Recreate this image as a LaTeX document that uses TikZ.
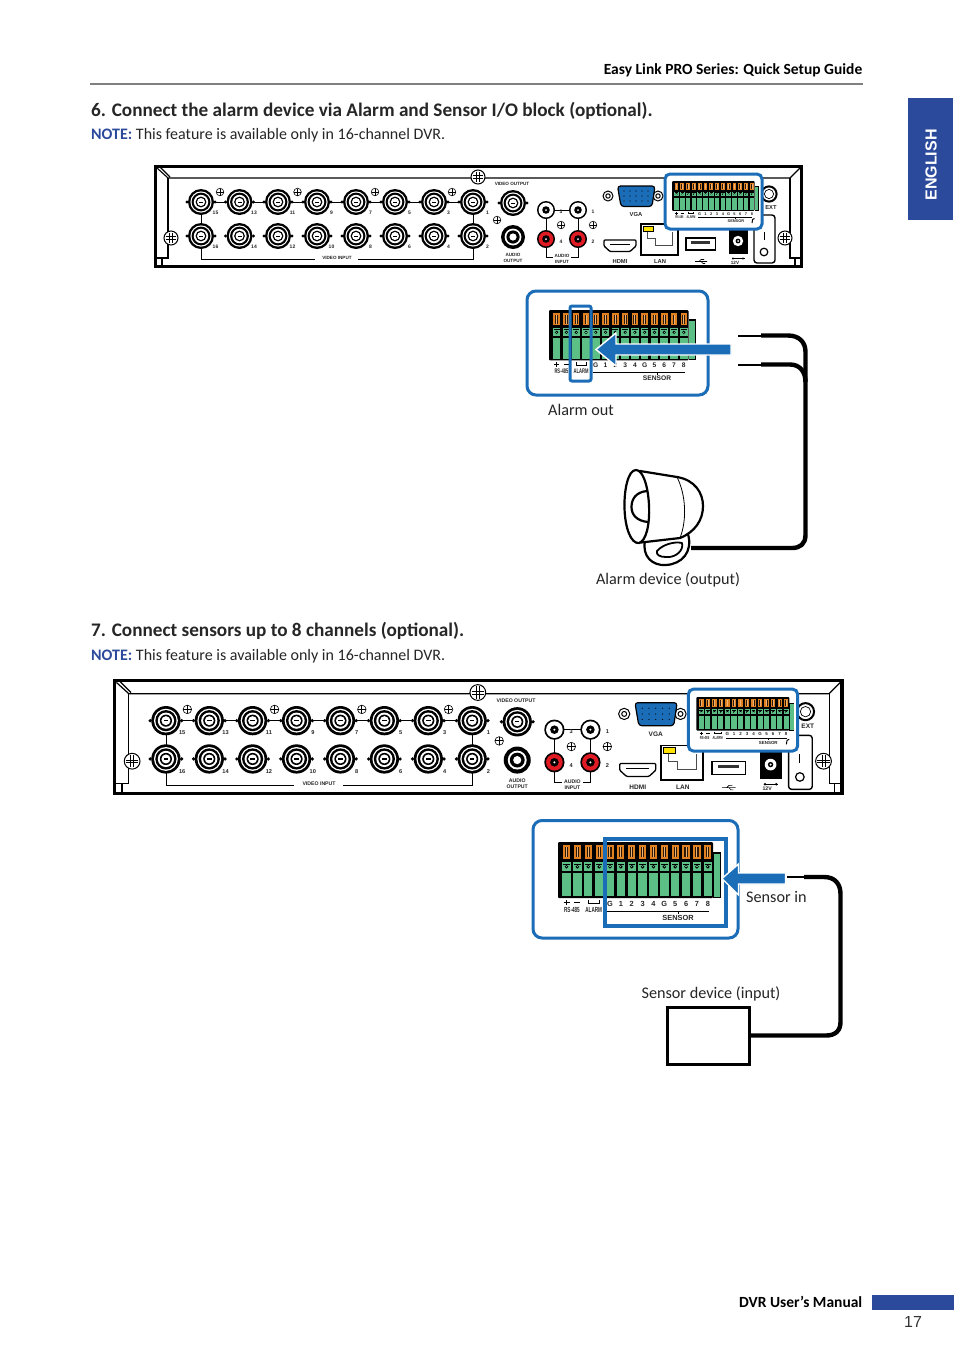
\documentclass[tikz,border=0pt]{standalone}
\usepackage{fontspec}
\setmainfont{Carlito}
\newfontfamily\arialf{Liberation Sans}
\usetikzlibrary{calc}
\definecolor{tabblue}{HTML}{2B4A9C}
\definecolor{boxblue}{HTML}{1B6DB8}
\definecolor{termgreen}{HTML}{5CBF85}
\definecolor{termorange}{HTML}{E0801E}
\definecolor{rcared}{HTML}{E01B24}
\definecolor{rulegray}{HTML}{808080}
\newcount\lblc
\newcommand{\plab}[4][plabel]{\global\advance\lblc by 1\node[#1] (t\the\lblc) at (#2,#3) {#4};}
\tikzset{
 plabel/.style={inner sep=0,font=\arialf\bfseries\fontsize{4.6}{5.6}\selectfont,text=black!85,align=center,transform shape},
 pnum/.style={plabel,font=\arialf\bfseries\fontsize{5}{5}\selectfont},
 pbig/.style={plabel,font=\arialf\bfseries\fontsize{5.8}{6}\selectfont},
 tlab/.style={plabel,font=\arialf\bfseries\fontsize{7.4}{8}\selectfont},
 tnar/.style={plabel,font=\arialf\bfseries\fontsize{7.4}{8}\selectfont,xscale=.62},
 capt/.style={inner sep=0,font=\fontsize{16.2}{18}\selectfont,text=black!85},
 head/.style={inner sep=0,anchor=west,font=\bfseries\fontsize{19.2}{22}\selectfont,text=black!85},
 note/.style={inner sep=0,anchor=west,font=\fontsize{16}{18}\selectfont,text=black!85},
 runhead/.style={inner sep=0,font=\bfseries\fontsize{15.5}{20}\selectfont,text=black},
 hair/.style={line width=.7pt,black},
 wirethin/.style={line width=2pt,black},
 wirethick/.style={line width=4.4pt,black,line join=round},
 bluebox/.style={draw=boxblue,fill=white,line width=3pt,rounded corners=9pt},
 blueline/.style={draw=boxblue,line width=3pt},
 bluearrow/.style={fill=boxblue,draw=white,line width=1.4pt,line join=miter},
 siren/.style={draw=black,line width=2.2pt,fill=white,line join=round},
}
% terminal block, origin top-left of the black body
\newcommand{\termblock}{%
 \fill[black] (155,10) rectangle (163,56);
 \fill[termgreen] (155.5,12) rectangle (162,54.5);
 \fill[black,rounded corners=1pt] (0,0) rectangle (155,56);
 \foreach \i in {0,...,13}{
  \pgfmathsetmacro\cx{8.5+10.87*\i}
  \fill[termorange] (\cx-3.6,3) rectangle (\cx+3.6,17);
  \fill[black!80!termorange] (\cx-1.6,5) rectangle (\cx+1.6,15);
  \fill[white!40!termorange] (\cx-.5,5) rectangle (\cx+.5,15);
  \fill[termgreen] (\cx-4.2,20) rectangle (\cx+4.2,29);
  \fill[black] (\cx-3.2,21.5) rectangle (\cx+3.2,22.5);
  \fill[black] (\cx,24.8) circle (1.9);
  \fill[termgreen] (\cx-.6,24.2) rectangle (\cx+.6,25.4);
  \fill[termgreen] (\cx-4.2,31) rectangle (\cx+4.2,54);
 }
 \pgfmathsetmacro\ca{8.5}\pgfmathsetmacro\cb{19.37}\pgfmathsetmacro\cc{30.24}\pgfmathsetmacro\cd{41.11}
 \draw[line width=1.3pt] (\ca-3,60.5) -- (\ca+3,60.5) (\ca,58) -- (\ca,63);
 \draw[line width=1.3pt] (\cb-3,60.5) -- (\cb+3,60.5);
 \draw[line width=.9pt] (\cc,57.5) -- (\cc,61.5) -- (\cd,61.5) -- (\cd,57.5);
 \plab[tnar]{13.9}{68}{RS-485}
 \plab[tnar]{35.7}{68}{ALARM}
 \foreach \l [count=\j from 4] in {G,1,2,3,4,G,5,6,7,8}{
  \pgfmathsetmacro\cx{8.5+10.87*\j}
  \plab[tlab]{\cx}{61.5}{\l}
 }
 \draw[line width=1pt] (49,69) -- (151,69) (120,69) -- (120,72);
 \plab[tlab]{120}{76}{SENSOR}
}
% rear-panel pieces
\newcommand{\bnc}[2]{%
 \fill[black] (#1-14,#2) circle (1.6) (#1+14,#2) circle (1.6);
 \fill[black] (#1,#2) circle (13);
 \fill[white] (#1,#2) circle (10.6);
 \fill[black] (#1,#2) circle (9.4);
 \fill[white] (#1,#2) circle (7.2);
 \fill[black] (#1,#2) circle (5.4);
 \fill[white] (#1,#2) circle (4);
 \fill[black] (#1-2,#2-.5) rectangle (#1+2,#2+.5);
}
\newcommand{\smscrew}[2]{%
 \draw[black,line width=.6pt,fill=white] (#1,#2) circle (3.8);
 \draw[black,line width=.9pt] (#1-3.5,#2) -- (#1+3.5,#2) (#1,#2-3.5) -- (#1,#2+3.5);
}
\newcommand{\bigscrew}[2]{%
 \draw[black,line width=1pt,fill=white] (#1,#2) circle (7);
 \draw[black,line width=.7pt] (#1-5.4,#2-1.2) -- (#1+5.4,#2-1.2) (#1-5.4,#2+1.2) -- (#1+5.4,#2+1.2) (#1-1.2,#2-5.4) -- (#1-1.2,#2+5.4) (#1+1.2,#2-5.4) -- (#1+1.2,#2+5.4);
}
\newcommand{\rca}[3]{%
 \fill[black] (#1,#2) circle (9);
 \fill[#3] (#1,#2) circle (7.4);
 \fill[black] (#1,#2) circle (3.8);
 \fill[white] (#1,#2) circle (1);
}
\newcommand{\nut}[2]{%
 \draw[black,line width=1pt,fill=white] (#1,#2) circle (5);
 \draw[black,line width=1pt] (#1,#2) circle (2.2);
}
\newcommand{\panel}[1]{%
 \begin{scope}[#1]
 % frame
 \draw[black,line width=3pt*\ps] (155.5,166.5) rectangle (801.5,266.5);
 \draw[black,line width=1.1pt*\ps] (157,168) -- (168,178) -- (790,178) -- (800,168);
 \draw[black,line width=1.1pt*\ps] (160,167) -- (170,177);
 \draw[black,line width=1.1pt*\ps] (168,178) -- (168,258) -- (155,258) (162,258) -- (162,266);
 \draw[black,line width=1.1pt*\ps] (790,178) -- (790,258) -- (801,258) (795,258) -- (795,266);
 % video in
 \draw[hair] (201,202) -- (473,202) (201,202) -- (201,236) (473,202) -- (473,236);
 \draw[hair] (201,236) -- (201,259) -- (315,259) (358,259) -- (473,259) -- (473,236);
 \foreach \x/\a/\b [count=\k from 0] in {201/15/16,239.5/13/14,278/11/12,317/9/10,356/7/8,395/5/6,434/3/4,473/1/2}{
  \bnc{\x}{202}\bnc{\x}{236}
  \plab[pnum]{\x+14.5}{213}{\a}
  \plab[pnum]{\x+14.5}{247}{\b}
 }
 \plab{337}{258}{VIDEO INPUT}
 \foreach \x in {220,297.5,375,452}{\smscrew{\x}{192}}
 \bigscrew{478}{177}
 \bigscrew{171}{238}
 \bigscrew{785}{238}
 \smscrew{497}{220}
 % video out / audio
 \plab{512}{184}{VIDEO OUTPUT}
 \bnc{513}{203}
 \fill[black] (513,237) circle (12);
 \fill[white] (513,237) circle (8.4);
 \fill[black] (513,237) circle (6.6);
 \fill[white] (513,237) circle (3.6);
 \plab{513}{258}{AUDIO\\OUTPUT}
 \draw[hair] (546,210) -- (578,210) (546,210) -- (546,257) -- (553,257) (571,257) -- (578,257) -- (578,210);
 \rca{546}{210}{white}\rca{578}{210}{white}\rca{546}{239}{rcared}\rca{578}{239}{rcared}
 \plab[pnum]{561}{212}{3}\plab[pnum]{593}{212}{1}\plab[pnum]{561}{242}{4}\plab[pnum]{593}{242}{2}
 \smscrew{561}{225}\smscrew{593}{225}
 \plab{562}{259}{AUDIO\\INPUT}
 % VGA
 \nut{608}{196}\nut{658}{196}
 \draw[black,line width=1.2pt,fill=boxblue,rounded corners=3pt] (617.5,186) -- (655,186) -- (652,206.5) -- (621,206.5) -- cycle;
 \foreach \x in {624,630,636,642,648}{\fill[black] (\x,191) circle (.55) (\x,196) circle (.55) (\x,201) circle (.55);}
 \plab[pbig]{636}{214}{VGA}
 % HDMI
 \draw[black,line width=1.3pt,rounded corners=1pt] (604,240) -- (636,240) -- (636,246) -- (630,251.5) -- (610,251.5) -- (604,246) -- cycle;
 \draw[black,line width=1.6pt] (610,244.5) -- (630,244.5);
 \plab[pbig]{620}{261}{HDMI}
 % LAN
 \draw[black,line width=1.8pt,fill=white] (641,224) rectangle (678,255);
 \draw[black!70,line width=.6pt] (647,232) -- (647,238) -- (655,238) -- (655,245) -- (672,245) -- (672,232) ;
 \fill[yellow!85!orange,draw=black,line width=.4pt] (643,226) rectangle (653,231);
 \plab[pbig]{660}{261}{LAN}
 % USB
 \draw[black,line width=1.3pt] (686,238) rectangle (715.5,250);
 \fill[black!80] (691,241) rectangle (710,244);
 \draw[black,line width=.6pt] (695,261.5) -- (707,261.5) (699,261.5) -- (701,259.5) -- (704,259.5) (701,261.5) -- (703,263.5) -- (705,263.5);
 % power
 \fill[black] (729,226) rectangle (748,254);
 \fill[white] (738,241) circle (5.2);
 \fill[black] (738,241) circle (2.4);
 \fill[white] (738,241) circle (1);
 \draw[black,line width=.6pt] (732,258.5) -- (745,258.5);
 \fill[black] (733,258.5) circle (1.2) (743,258.5) circle (1.2);
 \plab[plabel]{735}{262.5}{12V}
 % switch
 \draw[black,line width=1.4pt,rounded corners=3pt] (754,215) rectangle (775,263);
 \draw[black,line width=1pt] (764,232) -- (764,240);
 \draw[black,line width=1.2pt] (764,252) circle (3.8);
 % antenna
 \draw[black,line width=2pt,fill=white] (769,194) circle (7.6);
 \draw[black,line width=.7pt] (769,194) circle (4.6);
 \plab[pbig]{771}{207}{EXT}
 % sensor block
 \path[bluebox,rounded corners=5pt] (665,174) rectangle (762,229);
 \begin{scope}[shift={(672,181)},scale=.533,transform shape]\termblock\end{scope}
 \draw[black,line width=1pt] (752,223) -- (752.6,219.5) -- (754.5,218.5);
 \end{scope}
}
\begin{document}
\begin{tikzpicture}[x=1pt,y=-1pt]
\useasboundingbox (0,0) rectangle (954,1350);
\fill[white] (0,0) rectangle (954,1350);
% page furniture
\node[runhead,anchor=east] (runtitle) at (862.5,70) {Easy Link PRO Series: Quick Setup Guide};
\draw[rulegray,line width=1.4pt] (90,84) -- (863,84);
\node[fill=tabblue,minimum width=45pt,minimum height=122pt,inner sep=0,anchor=north west] (tab) at (908,98) {};
\node[rotate=90,text=white,inner sep=0,font=\arialf\bfseries\fontsize{16}{18}\selectfont] (english) at (931,165) {ENGLISH};
\node[head] (h6) at (91,111) {6. Connect the alarm device via Alarm and Sensor I/O block (optional).};
\node[note] (n6) at (91,135) {\textcolor{tabblue}{\textbf{NOTE:}} This feature is available only in 16-channel DVR.};
\node[head] (h7) at (91,631) {7. Connect sensors up to 8 channels (optional).};
\node[note] (n7) at (91,656) {\textcolor{tabblue}{\textbf{NOTE:}} This feature is available only in 16-channel DVR.};
\fill[tabblue] (872,1295) rectangle (954,1310);
\node[runhead,anchor=east] (manual) at (862.5,1302) {DVR User’s Manual};
\node[inner sep=0,font=\arialf\fontsize{16}{18}\selectfont,text=black!80] (pageno) at (913,1321.5) {17};
% rear panels
\def\ps{1}
\panel{}
\def\ps{1.126}
\panel{shift={(113,679)},scale=1.126,shift={(-154,-165)}}
% Step 6 detail
\path[bluebox] (527,291) rectangle (708,395);
\begin{scope}[shift={(549,310)},scale=.9,transform shape]\termblock\end{scope}
\draw[blueline,rounded corners=2pt] (570,306) rectangle (591,381);
\path[bluearrow] (731,344) -- (616,344) -- (616,333) -- (596,349.5) -- (616,366) -- (616,355) -- (731,355) -- cycle;
\node[capt] (alarmout) at (581,410) {Alarm out};
\coordinate (w1a) at (738,335.5);
\coordinate (w1b) at (761,335.5);
\coordinate (w2a) at (738,364.5);
\coordinate (w2b) at (761,364.5);
\coordinate (sirenend) at (691,548);
\draw[wirethin] (w1a) -- (w1b);
\draw[wirethin] (w2a) -- (w2b);
\draw[wirethick] (w2b) -- (790,364.5) .. controls (800,364.5) and (805.5,372) .. (805.5,382);
\draw[wirethick] (w1b) -- (788,335.5) .. controls (799,335.5) and (805.5,342) .. (805.5,352) -- (805.5,535) .. controls (805.5,544) and (800,548) .. (792,548) -- (sirenend);
% siren
\path[siren] (645,541) .. controls (642,556) and (652,566) .. (666,565) .. controls (682,564) and (693,552) .. (688,534) -- cycle;
\path[siren,line width=1.8pt] (657,551) .. controls (662,545) and (674,541) .. (682,543) .. controls (684,550) and (676,558) .. (666,557) .. controls (660,557) and (656,555) .. (657,551) -- cycle;
\path[siren] (640,471) -- (677,477) .. controls (695,480) and (703,493) .. (703,506) .. controls (703,520) and (695,532) .. (680,538) -- (641,542.5) -- cycle;
\draw[black,line width=.8pt] (677,477) .. controls (686,495) and (687,520) .. (680,538);
\path[siren] (636,470) .. controls (628,470) and (624,490) .. (624.5,508) .. controls (625,528) and (631,544) .. (639,543) .. controls (646,541) and (650,525) .. (649,505) .. controls (648,486) and (643,470) .. (636,470) -- cycle;
\draw[black,line width=2.2pt,line cap=round] (647,491) .. controls (636,492) and (631.5,499) .. (631.5,507) .. controls (631.5,515) and (637,521) .. (648,522);
\node[capt] (alarmdev) at (668,580) {Alarm device (output)};
% Step 7 detail
\path[bluebox] (533,820.5) rectangle (738,938);
\begin{scope}[shift={(558,842)},transform shape]\termblock\end{scope}
\draw[blueline,line width=4pt] (605,838.5) rectangle (725.5,925.5);
\path[bluearrow] (785.5,873) -- (738.5,873) -- (738.5,864) -- (722,878.5) -- (738.5,895) -- (738.5,884) -- (785.5,884) -- cycle;
\node[capt,anchor=west] (sensorin) at (746,896.5) {Sensor in};
\node[capt] (sensordev) at (711,994) {Sensor device (input)};
\node[draw=black,line width=3pt,minimum width=82pt,minimum height=57pt,inner sep=0,anchor=north west] (sensorbox) at (666,1006) {};
\coordinate (w3a) at (787,877);
\coordinate (w3b) at (804,877);
\draw[wirethin] (w3a) -- (w3b);
\draw[wirethick] (w3b) -- (824,877) .. controls (835,877) and (840.5,884) .. (840.5,894) -- (840.5,1022) .. controls (840.5,1031) and (835,1035.5) .. (826,1035.5) -- (sensorbox.east |- 0,1035.5);
\end{tikzpicture}
\end{document}
